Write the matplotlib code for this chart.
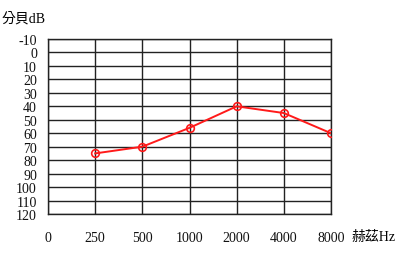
import matplotlib
matplotlib.use("Agg")
import matplotlib.pyplot as plt

freq_labels = ["0", "250", "500", "1000", "2000", "4000", "8000"]
data_idx = [1, 2, 3, 4, 5, 6]
db_values = [75, 70, 56, 40, 45, 60]
y_ticks = list(range(-10, 121, 10))

plt.rcParams['font.family'] = ['Liberation Serif', 'Noto Sans CJK TC']

fig = plt.figure(figsize=(4.0, 2.55), dpi=100)
ax = fig.add_axes([0.12, 0.157, 0.7075, 0.686])

ax.set_xlim(0, len(freq_labels) - 1)
ax.set_ylim(120, -10)
ax.set_xticks(range(len(freq_labels)))
ax.set_xticklabels(freq_labels)
ax.set_yticks(y_ticks)
ax.set_yticklabels([str(v) for v in y_ticks])
ax.grid(True, color='#222222', linewidth=1.0)
ax.set_axisbelow(True)
for s in ax.spines.values():
    s.set_color('#222222')
    s.set_linewidth(1.0)
ax.tick_params(axis='both', length=0, labelsize=10, colors='#111111')
ax.tick_params(axis='x', pad=12)
ax.tick_params(axis='y', pad=8)

ax.plot(data_idx, db_values, color='#ff1a1a', linewidth=1.4, marker='o',
        markersize=5.5, markerfacecolor='none', markeredgecolor='#ff1a1a',
        markeredgewidth=1.2, zorder=5)

fig.text(0.005, 0.925, "分貝dB", fontsize=10, ha='left', va='center',
         family=['Liberation Serif', 'Noto Sans CJK TC'])
fig.text(0.88, 0.07, "赫茲Hz", fontsize=10, ha='left', va='center',
         family=['Liberation Serif', 'Noto Sans CJK TC'])

fig.savefig("out.png", dpi=100)
